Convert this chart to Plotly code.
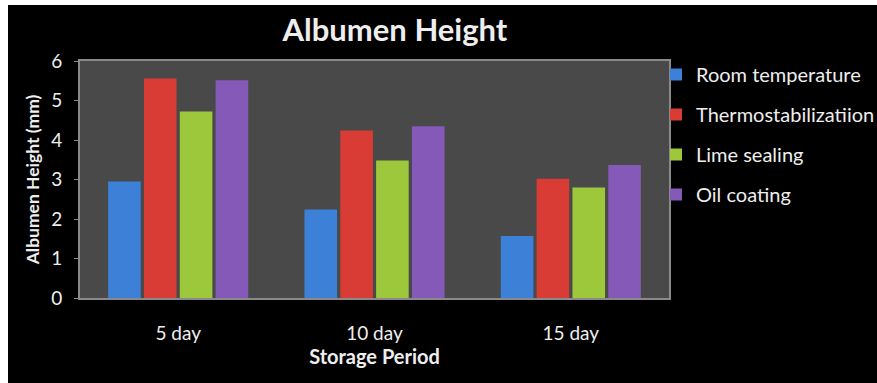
import plotly.graph_objects as go

categories = ["5 day", "10 day", "15 day"]
series_names = ["Room temperature", "Thermostabilizatiion", "Lime sealing", "Oil coating"]
room_temperature = [2.95, 2.24, 1.57]
thermostabilization = [5.56, 4.24, 3.02]
lime_sealing = [4.72, 3.48, 2.80]
oil_coating = [5.51, 4.35, 3.37]
colors = ["#3c80d8", "#d93c34", "#9dc83c", "#8459b8"]

values = [room_temperature, thermostabilization, lime_sealing, oil_coating]

W, H = 877, 383
L, R, T, B = 80, 669, 61, 298

fig = go.Figure()
for i, (name, vals) in enumerate(zip(series_names, values)):
    fig.add_trace(go.Bar(
        x=categories, y=vals, name=name,
        marker=dict(color=colors[i], line=dict(width=0)),
        legendgroup=f"g{i}",
    ))

txt = "#eeeeee"
font_family = "Lato, 'Liberation Sans', sans-serif"

fig.update_layout(
    width=W, height=H,
    margin=dict(l=L, r=W - R, t=T, b=H - B, pad=0, autoexpand=False),
    paper_bgcolor="black",
    plot_bgcolor="#494949",
    barmode="group",
    bargap=0.27,
    bargroupgap=0.09,
    font=dict(family=font_family, color=txt, size=18),
    title=dict(
        text="<b>Albumen Height</b>",
        x=395 / W, xref="container", xanchor="center",
        y=1 - 30 / H, yref="container", yanchor="middle",
        font=dict(size=31, color=txt, family=font_family),
    ),
    showlegend=True,
    legend=dict(
        x=(656 - L) / (R - L), xanchor="left",
        y=1 - (55 - T) / (B - T), yanchor="top",
        bgcolor="rgba(0,0,0,0)",
        font=dict(size=20, color=txt, family=font_family),
        traceorder="grouped",
        tracegroupgap=11,
        itemclick=False,
    ),
    xaxis=dict(
        showgrid=False,
        showline=True, linecolor="#8a8a8a", linewidth=2, mirror=True,
        ticks="", ticklabelstandoff=17,
        tickfont=dict(size=19, color=txt),
        title=dict(text="<b>Storage Period</b>", font=dict(size=20, color=txt), standoff=4),
    ),
    yaxis=dict(
        range=[0, 6], dtick=1,
        showgrid=False, zeroline=False,
        showline=True, linecolor="#8a8a8a", linewidth=2, mirror=True,
        ticks="outside", ticklen=4, tickcolor="#8a8a8a", tickwidth=1,
        ticklabelstandoff=8,
        tickfont=dict(size=19, color=txt),
        title=dict(text="<b>Albumen Height (mm)</b>", font=dict(size=17.5, color=txt), standoff=7),
    ),
)

# white outer strips at the left and top edges of the picture
px_x = lambda p: (p - L) / (R - L)
px_y = lambda p: (B - p) / (B - T)
fig.add_shape(type="rect", xref="paper", yref="paper",
              x0=px_x(0), x1=px_x(8), y0=px_y(H), y1=px_y(0),
              fillcolor="white", line=dict(width=0), layer="above")
fig.add_shape(type="rect", xref="paper", yref="paper",
              x0=px_x(0), x1=px_x(W), y0=px_y(5), y1=px_y(0),
              fillcolor="white", line=dict(width=0), layer="above")

fig.write_html("out.html")
